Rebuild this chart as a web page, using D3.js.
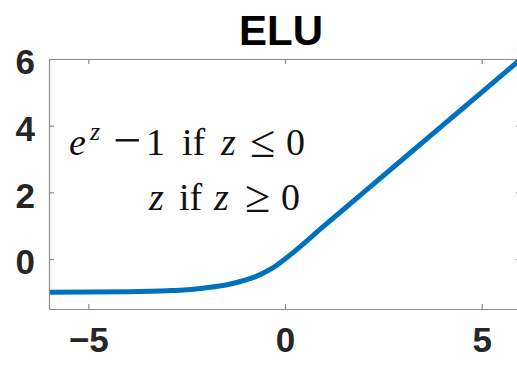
<!DOCTYPE html>
<html>
<head>
<meta charset="utf-8">
<script src="https://cdn.jsdelivr.net/npm/d3@7"></script>
<style>
  html, body { margin: 0; padding: 0; background: #fff; }
  svg { display: block; }
</style>
</head>
<body>
<svg id="chart" width="517" height="365"></svg>
<script>
// ELU activation sampled along z
const zValues = [-6, -5, -4, -3, -2.5, -2, -1.5, -1, -0.75, -0.5, -0.25, 0, 1, 2, 3, 4, 5, 6];
const eluValues = [-1.0, -0.99, -0.98, -0.95, -0.92, -0.86, -0.78, -0.63, -0.53, -0.39, -0.22, 0, 1, 2, 3, 4, 5, 6];
const xTicks = [-5, 0, 5];
const yTicks = [0, 2, 4, 6];
const titleText = "ELU";

const svg = d3.select("#chart");
const plotLeft = 49, plotRight = 521, plotTop = 59, plotBottom = 309;
const axisColor = "#8a8a8a";

const x = d3.scaleLinear().domain([-6, 6]).range([plotLeft, plotRight]);
const y = d3.scaleLinear().domain([-1.5, 6]).range([plotBottom, plotTop]);

svg.append("defs").append("clipPath").attr("id", "plotArea")
  .append("rect").attr("x", plotLeft).attr("y", plotTop)
  .attr("width", plotRight - plotLeft).attr("height", plotBottom - plotTop);

// curve
const points = zValues.map((z, i) => [z, eluValues[i]]);
svg.append("path")
  .datum(points)
  .attr("clip-path", "url(#plotArea)")
  .attr("fill", "none")
  .attr("stroke", "#0072BD")
  .attr("stroke-width", 5)
  .attr("stroke-linejoin", "round")
  .attr("d", d3.line().x(d => x(d[0])).y(d => y(d[1])).curve(d3.curveMonotoneX));

// box frame with inward ticks on all four sides
const tickLen = 5;
const axStyle = g => {
  g.select(".domain").attr("stroke", axisColor).attr("stroke-width", 1.2);
  g.selectAll(".tick line").attr("stroke", axisColor).attr("stroke-width", 1.2);
};
const tickFont = g => g.selectAll("text")
  .attr("font-family", "'Liberation Sans', Arial, sans-serif")
  .attr("font-weight", "bold")
  .attr("font-size", 35)
  .attr("fill", "#262626");

svg.append("g").attr("transform", `translate(0,${plotBottom})`)
  .call(d3.axisBottom(x).tickValues(xTicks).tickSize(-tickLen).tickSizeOuter(0).tickPadding(18).tickFormat(d3.format("d")))
  .call(axStyle).call(tickFont)
  .call(g => g.selectAll("text").attr("dy", "0.71em"));

svg.append("g").attr("transform", `translate(0,${plotTop})`)
  .call(d3.axisTop(x).tickValues(xTicks).tickSize(-tickLen).tickSizeOuter(0).tickFormat(""))
  .call(axStyle);

svg.append("g").attr("transform", `translate(${plotLeft},0)`)
  .call(d3.axisLeft(y).tickValues(yTicks).tickSize(-tickLen).tickSizeOuter(0).tickPadding(14).tickFormat(d3.format("d")))
  .call(axStyle).call(tickFont)
  .call(g => g.selectAll("text").attr("dy", "0.42em"));

svg.append("g").attr("transform", `translate(${plotRight},0)`)
  .call(d3.axisRight(y).tickValues(yTicks).tickSize(-tickLen).tickSizeOuter(0).tickFormat(""))
  .call(axStyle);

// title
svg.append("text")
  .attr("x", (plotLeft + plotRight) / 2 - 4)
  .attr("y", 45)
  .attr("text-anchor", "middle")
  .attr("font-family", "'Liberation Sans', Arial, sans-serif")
  .attr("font-weight", "bold")
  .attr("font-size", 42)
  .attr("fill", "#000")
  .text(titleText);

// piecewise definition, laid out token by token with math-style spacing
const serif = "'Liberation Serif', 'Times New Roman', serif";
const mathSize = 38;
function mathLine(baseline, tokens) {
  const t = svg.append("text")
    .attr("y", baseline)
    .attr("font-family", serif).attr("font-size", mathSize).attr("fill", "#111");
  tokens.forEach(tk => {
    const s = t.append("tspan")
      .attr("x", tk.x)
      .attr("y", baseline + (tk.rise || 0))
      .text(tk.s);
    if (tk.it) s.attr("font-style", "italic");
    if (tk.size) s.attr("font-size", tk.size);
  });
}
mathLine(155, [
  { s: "e", x: 69, it: true },
  { s: "z", x: 90, it: true, size: 26, rise: -15 },
  { s: "\u2212", x: 113, size: 50, rise: 2 },
  { s: "1", x: 146 },
  { s: "if", x: 182 },
  { s: "z", x: 221, it: true },
  { s: "\u2264", x: 250, size: 46, rise: 2 },
  { s: "0", x: 286 }
]);
mathLine(210, [
  { s: "z", x: 149, it: true },
  { s: "if", x: 179 },
  { s: "z", x: 214, it: true },
  { s: "\u2265", x: 245, size: 46, rise: 2 },
  { s: "0", x: 281 }
]);
</script>
</body>
</html>
